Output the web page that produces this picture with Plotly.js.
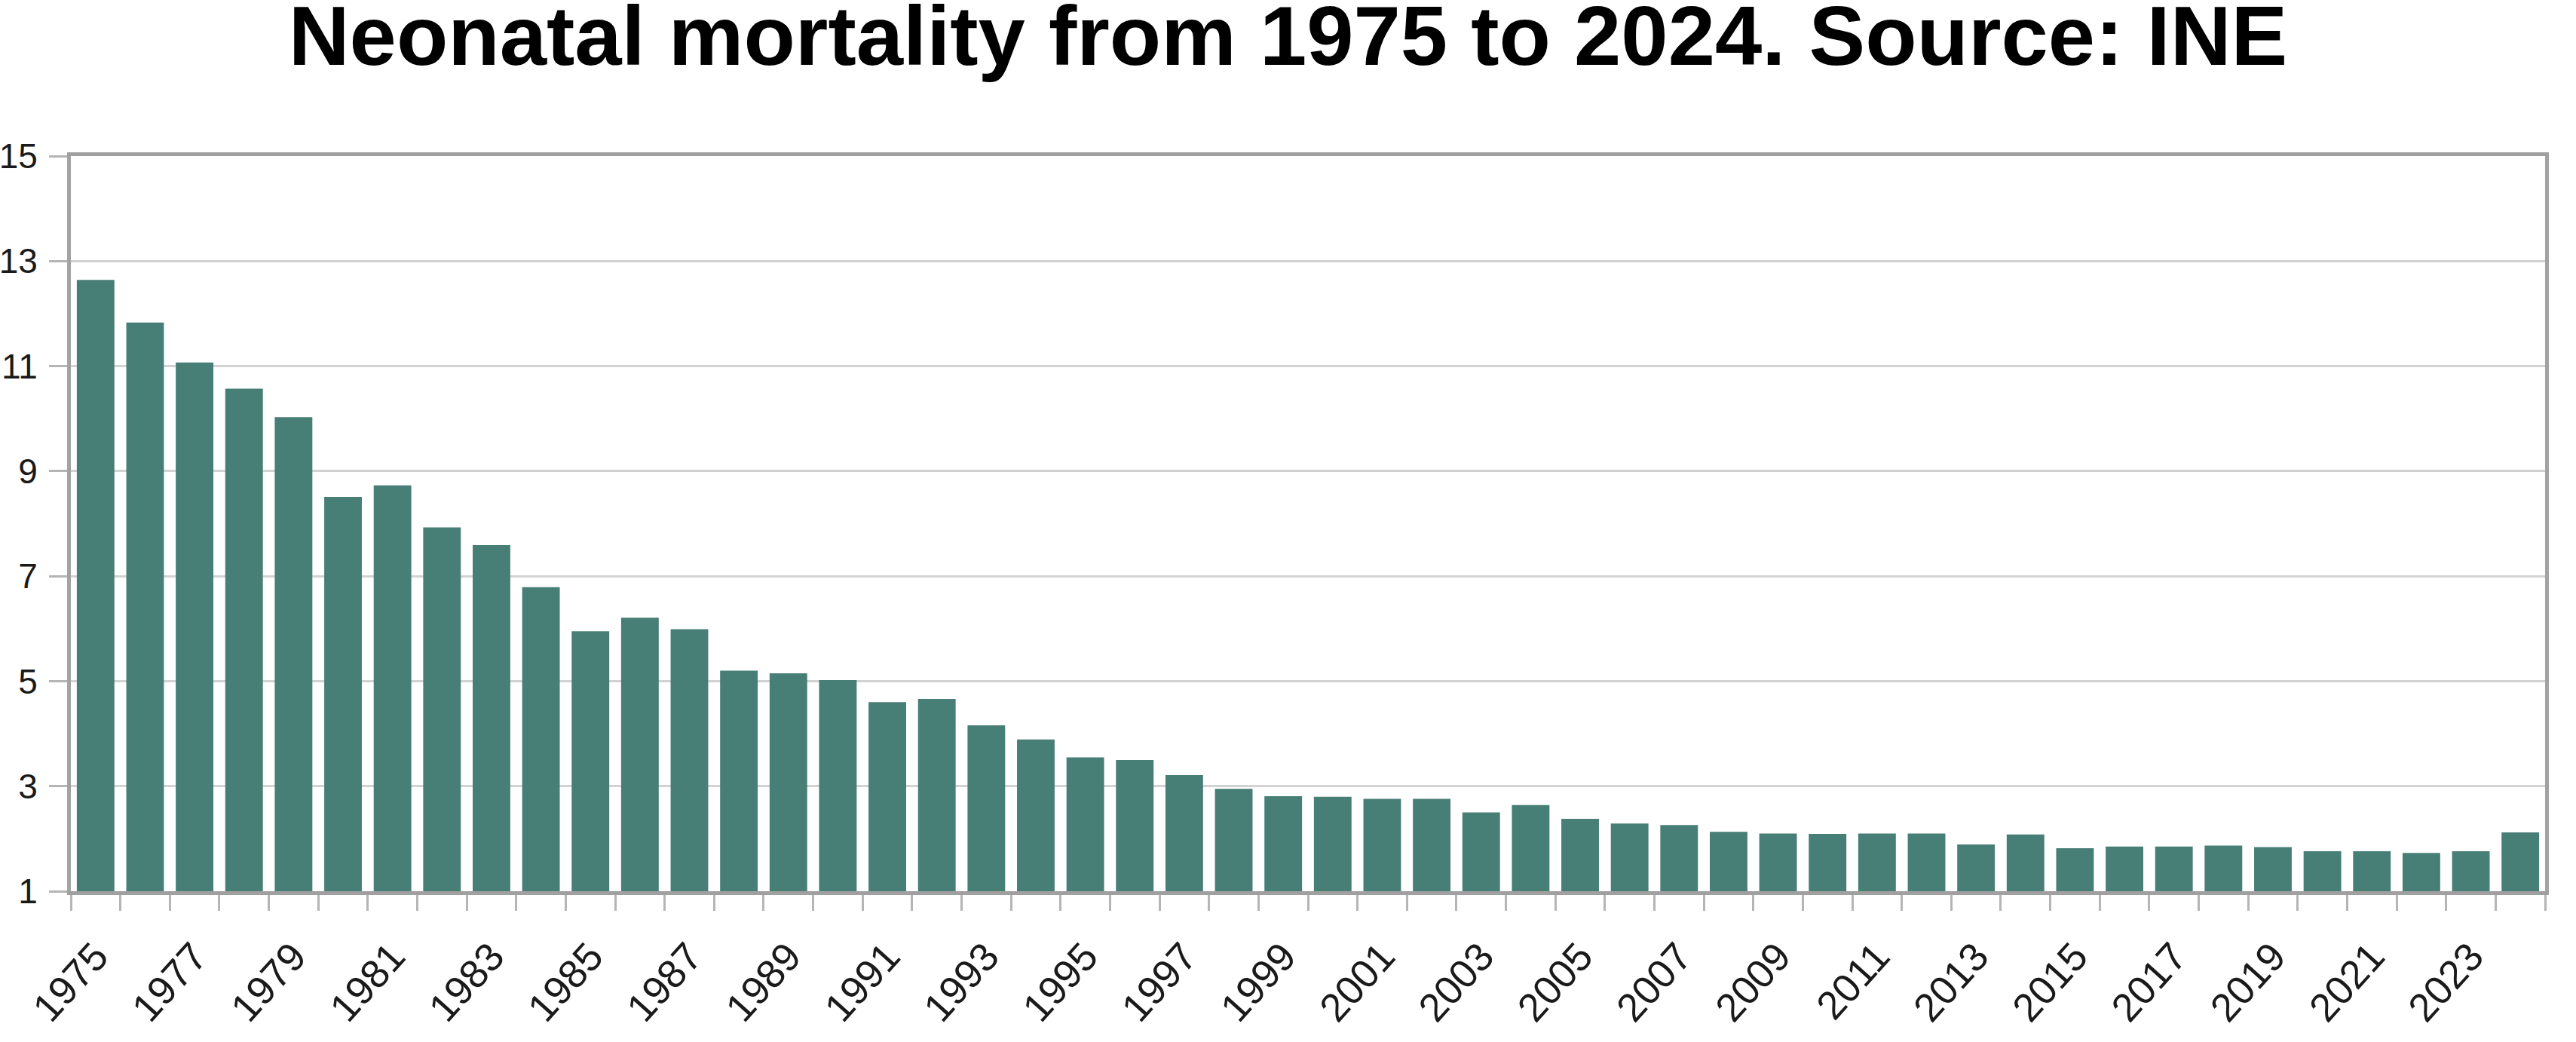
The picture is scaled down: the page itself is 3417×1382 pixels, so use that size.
<!DOCTYPE html>
<html>
<head>
<meta charset="utf-8">
<script src="https://cdn.plot.ly/plotly-3.0.1.min.js"></script>
<style>
  html, body { margin: 0; padding: 0; background: #ffffff; }
  #chart { width: 3417px; height: 1382px; }
</style>
</head>
<body>
<div id="chart"></div>
<script>
// Years (categories)
const years = [
  1975, 1976, 1977, 1978, 1979, 1980, 1981, 1982, 1983, 1984,
  1985, 1986, 1987, 1988, 1989, 1990, 1991, 1992, 1993, 1994,
  1995, 1996, 1997, 1998, 1999, 2000, 2001, 2002, 2003, 2004,
  2005, 2006, 2007, 2008, 2009, 2010, 2011, 2012, 2013, 2014,
  2015, 2016, 2017, 2018, 2019, 2020, 2021, 2022, 2023, 2024
];

// Neonatal mortality rate
const neonatalMortality = [
  12.64, 11.83, 11.07, 10.57, 10.03, 8.51, 8.73, 7.93, 7.59, 6.79,
  5.95, 6.21, 5.99, 5.20, 5.15, 5.02, 4.60, 4.66, 4.16, 3.89,
  3.55, 3.50, 3.21, 2.95, 2.81, 2.80, 2.76, 2.76, 2.50, 2.64,
  2.38, 2.29, 2.26, 2.13, 2.10, 2.09, 2.10, 2.10, 1.89, 2.08,
  1.82, 1.85, 1.85, 1.87, 1.84, 1.76, 1.76, 1.73, 1.76, 2.12
];

// Tick labels
const xTickYears = years.filter((y, i) => i % 2 === 0);
const xTickText = xTickYears.map(String);
const yTickVals = [1, 3, 5, 7, 9, 11, 13, 15];
const yTickText = yTickVals.map(String);

const chartTitle = 'Neonatal mortality from 1975 to 2024. Source: INE';
const FONT = 'Liberation Sans, Arial, Helvetica, sans-serif';

const trace = {
  type: 'bar',
  x: years,
  y: neonatalMortality,
  width: 0.76,
  marker: { color: '#477e75', line: { width: 0 } },
  hovertemplate: '%{x}: %{y}<extra></extra>'
};

const layout = {
  width: 3417,
  height: 1382,
  paper_bgcolor: '#ffffff',
  plot_bgcolor: '#ffffff',
  margin: { l: 94, r: 41, t: 207, b: 200, pad: 0 },
  showlegend: false,
  font: { family: FONT, color: '#1a1a1a' },
  title: {
    text: '<b>' + chartTitle + '</b>',
    font: { family: FONT, size: 112, color: '#000000' },
    x: 0.5,
    xref: 'container',
    xanchor: 'center',
    y: 1 - 47 / 1382,
    yref: 'container',
    yanchor: 'middle'
  },
  xaxis: {
    type: 'linear',
    range: [1974.5, 2024.5],
    tickmode: 'array',
    tickvals: xTickYears,
    ticktext: xTickText,
    tickangle: -48,
    ticks: 'outside',
    ticklen: 21,
    tickwidth: 3,
    tickcolor: 'rgba(0,0,0,0)',
    minor: {
      tick0: 1974.5,
      dtick: 1,
      ticks: 'outside',
      ticklen: 21,
      tickwidth: 3,
      tickcolor: '#b5b5b5',
      showgrid: false
    },
    tickfont: { family: FONT, size: 53, color: '#1a1a1a' },
    ticklabelstandoff: 8,
    showgrid: false,
    zeroline: false,
    showline: true,
    linecolor: '#a0a0a0',
    linewidth: 5,
    mirror: true,
    fixedrange: true
  },
  yaxis: {
    range: [1, 15],
    tickmode: 'array',
    tickvals: yTickVals,
    ticktext: yTickText,
    ticks: 'outside',
    ticklen: 24,
    tickwidth: 3,
    tickcolor: '#b5b5b5',
    tickfont: { family: FONT, size: 46, color: '#1a1a1a' },
    ticklabelstandoff: 6,
    showgrid: true,
    gridcolor: '#d2d2d2',
    gridwidth: 3,
    zeroline: false,
    showline: true,
    linecolor: '#a3a3a3',
    linewidth: 5,
    mirror: true,
    fixedrange: true
  }
};

Plotly.newPlot('chart', [trace], layout, { displayModeBar: false, staticPlot: true });
</script>
</body>
</html>
